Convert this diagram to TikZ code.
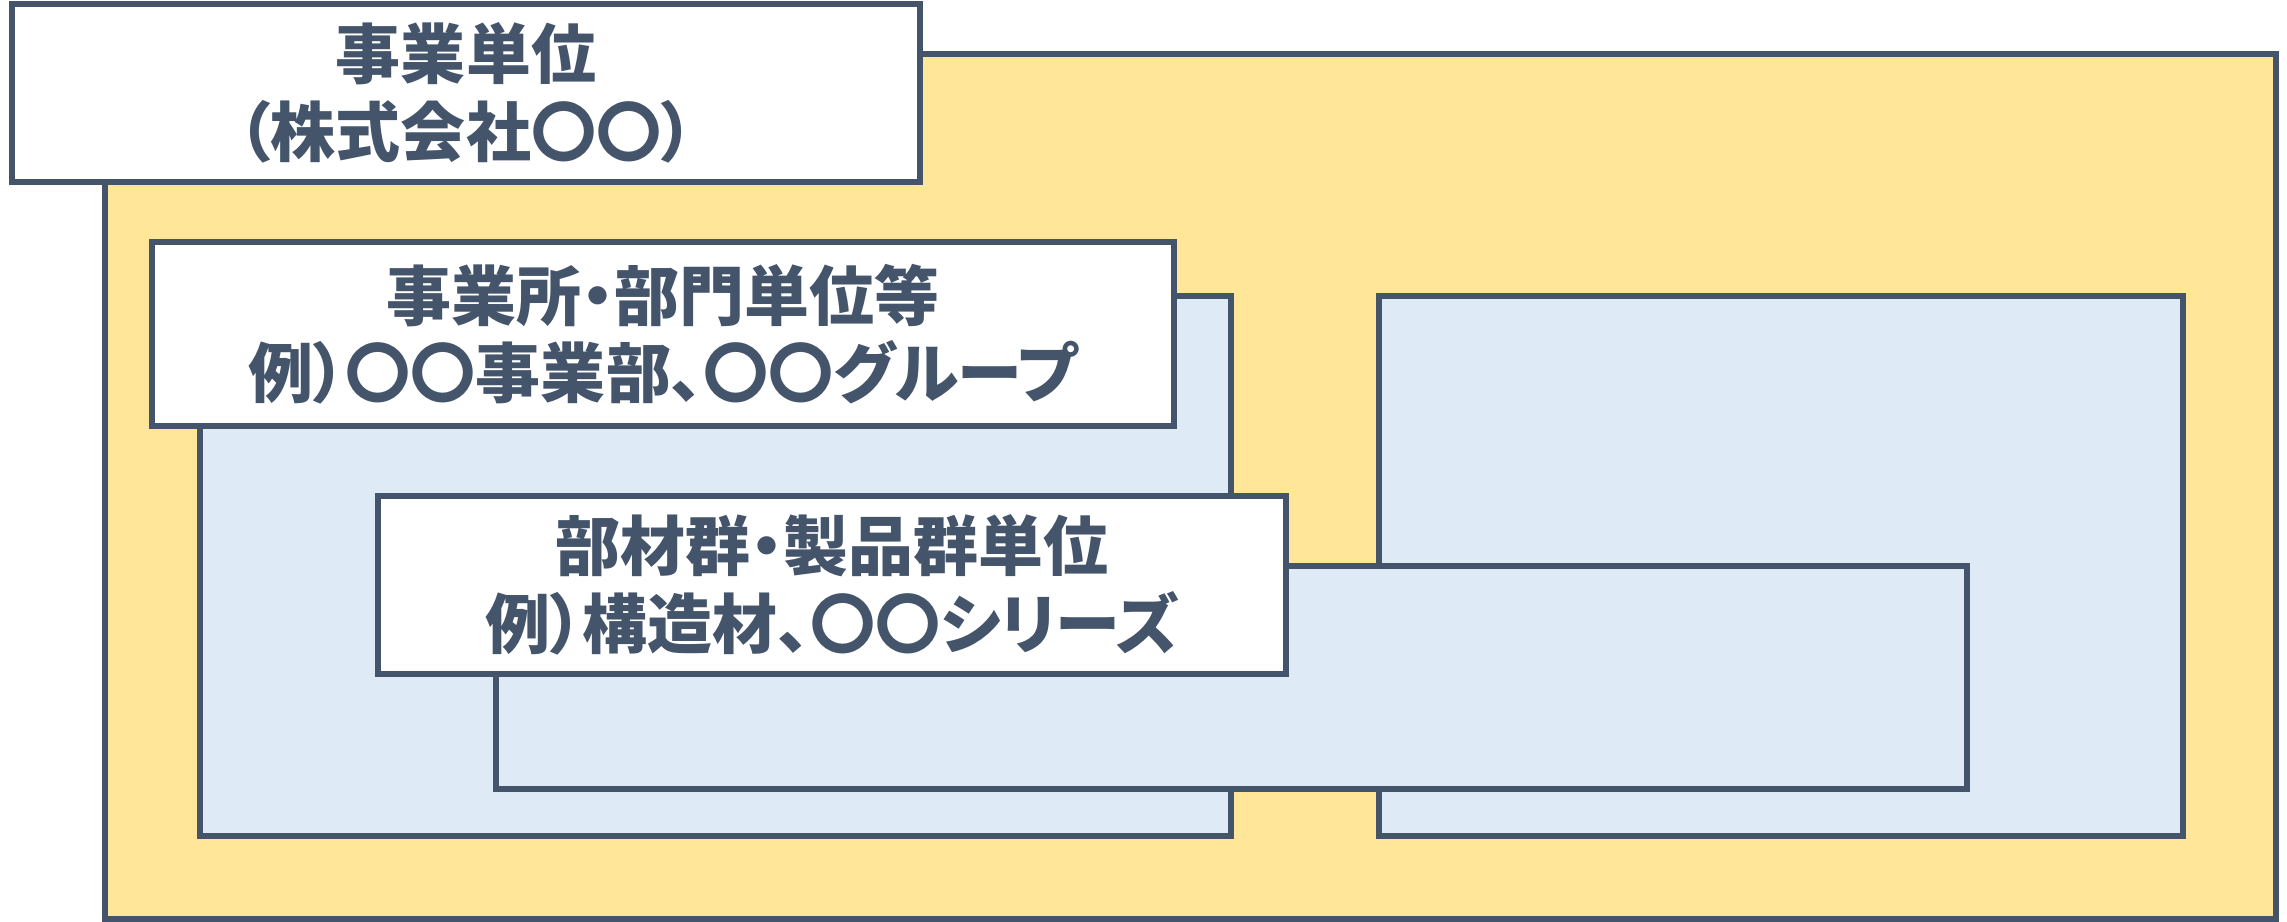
\documentclass[tikz,border=0pt]{standalone}
\usepackage{fontspec}
\newfontfamily\jpfont{Noto Sans CJK JP}[RawFeature=+palt]
\definecolor{slate}{HTML}{44546A}
\definecolor{paleyellow}{HTML}{FFE699}
\definecolor{paleblue}{HTML}{DEEBF7}
\tikzset{
	region/.style={draw=slate, line width=1.7pt},
	labelbox/.style={draw=slate, fill=white, line width=1.7pt, text=slate,
		align=center, inner sep=0pt,
		font=\jpfont\bfseries\fontsize{18.5pt}{22pt}\selectfont}
}

\begin{document}
\begin{tikzpicture}
		\useasboundingbox (0,0) rectangle (22.87,9.22);
		
		% company
		\draw[region, fill=paleyellow] (1.05,0.03) rectangle (22.76,8.68);
		\node[labelbox, minimum width=9.08cm, minimum height=1.78cm] (company) at (4.66,8.29) {事業単位\\（株式会社〇〇）};
		
		% divisions
		\draw[region, fill=paleblue] (2.00,0.86) rectangle (12.31,6.26);
		\draw[region, fill=paleblue] (13.79,0.86) rectangle (21.83,6.26);
		\node[labelbox, minimum width=10.22cm, minimum height=1.84cm] (division) at (6.63,5.88) {事業所・部門単位等\\例）〇〇事業部、〇〇グループ};
		
		% product groups
		\draw[region, fill=paleblue] (4.96,1.33) rectangle (19.67,3.56);
		\node[labelbox, minimum width=9.08cm, minimum height=1.78cm] (product) at (8.32,3.37) {部材群・製品群単位\\例）構造材、〇〇シリーズ};
	\end{tikzpicture}
\end{document}
